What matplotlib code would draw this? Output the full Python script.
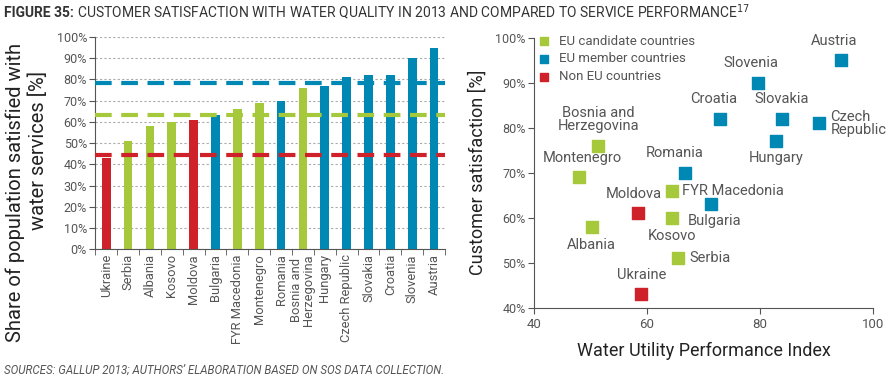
import numpy as np
import matplotlib
matplotlib.use('Agg')
from matplotlib import pyplot as plt

plt.rcParams['font.family'] = ['Roboto', 'DejaVu Sans']
plt.rcParams['text.color'] = '#3a3a3a'

countries = ['Ukraine', 'Serbia', 'Albania', 'Kosovo', 'Moldova', 'Bulgaria',
             'FYR Macedonia', 'Montenegro', 'Romania', 'Bosnia and\nHerzegovina',
             'Hungary', 'Czech Republic', 'Slovakia', 'Croatia', 'Slovenia', 'Austria']
groups = ['non', 'cand', 'cand', 'cand', 'non', 'eu', 'cand', 'cand', 'eu', 'cand',
          'eu', 'eu', 'eu', 'eu', 'eu', 'eu']
satisfaction = [43, 51, 58, 60, 61, 63, 66, 69, 70, 76, 77, 81, 82, 82, 90, 95]
performance = [59, 65.5, 50.2, 64.5, 58.4, 71.3, 64.4, 48, 66.8, 51.4,
               82.8, 90.5, 83.8, 73, 79.7, 94.3]
group_means = {'eu': 78.5, 'cand': 63, 'non': 44.5}

colors = {'cand': '#a6c93b', 'eu': '#0088b5', 'non': '#cf2129'}
legend_names = [('cand', 'EU candidate countries'), ('eu', 'EU member countries'),
                ('non', 'Non EU countries')]
grey = '#555555'

fig = plt.figure(figsize=(8.9, 3.81), dpi=100)

# left: bar chart
ax = fig.add_axes([0.107, 0.346, 0.393, 0.557])
x = np.arange(len(countries))
ax.bar(x, satisfaction, width=0.4, color=[colors[g] for g in groups], zorder=2)
for g, m in group_means.items():
    ax.axhline(m, color=colors[g], lw=3, dashes=(4, 2.3), zorder=3)
ax.set_xlim(-0.5, len(countries) - 0.5)
ax.set_ylim(0, 100)
ax.set_yticks(range(0, 101, 10))
ax.set_yticklabels(['%d%%' % v for v in range(0, 101, 10)], fontsize=9, color=grey)
ax.yaxis.grid(True, color='#aaaaaa', ls=(0, (2, 2)), lw=0.8)
ax.set_axisbelow(True)
ax.set_xticks(x)
ax.set_xticklabels(countries, rotation=90, fontsize=9.3, color=grey, linespacing=0.9)
ax.tick_params(axis='x', length=0)
ax.set_xticks(np.arange(-0.5, len(countries), 1), minor=True)
ax.tick_params(axis='x', which='minor', length=4, color=grey)
ax.tick_params(axis='y', length=4, color=grey, pad=2)
for s in ['top', 'right']:
    ax.spines[s].set_visible(False)
for s in ['left', 'bottom']:
    ax.spines[s].set_color(grey)
# y label: two lines placed separately, as in the original
fig.text(0.017, 1 - 192 / 381, 'Share of population satisfied with', rotation=90,
         fontsize=14.5, color='#222222', ha='center', va='center')
fig.text(0.043, 1 - 150 / 381, 'water services [%]', rotation=90,
         fontsize=14.5, color='#222222', ha='center', va='center')

# right: scatter
ax2 = fig.add_axes([0.6, 0.192, 0.381, 0.709])
for key, name in legend_names:
    idx = [i for i, g in enumerate(groups) if g == key]
    ax2.scatter([performance[i] for i in idx], [satisfaction[i] for i in idx],
                marker='s', s=80, color=colors[key], label=name, zorder=3)

offsets = {
    'Ukraine': (0, 9, 'center', 'bottom'),
    'Serbia': (8, 0, 'left', 'center'),
    'Albania': (0, -8, 'center', 'top'),
    'Kosovo': (0, -8, 'center', 'top'),
    'Moldova': (-3, 9, 'center', 'bottom'),
    'Bulgaria': (3, -7, 'center', 'top'),
    'FYR Macedonia': (7, 0, 'left', 'center'),
    'Montenegro': (2, 9, 'center', 'bottom'),
    'Romania': (-8, 9, 'center', 'bottom'),
    'Bosnia and\nHerzegovina': (0, 9, 'center', 'bottom'),
    'Hungary': (0, -7, 'center', 'top'),
    'Czech Republic': (8, 0, 'left', 'center'),
    'Slovakia': (0, 9, 'center', 'bottom'),
    'Croatia': (-5, 9, 'center', 'bottom'),
    'Slovenia': (-5, 9, 'center', 'bottom'),
    'Austria': (-5, 9, 'center', 'bottom'),
}
for c, px, py in zip(countries, performance, satisfaction):
    dx, dy, ha, va = offsets[c]
    label = 'Czech\nRepublic' if c == 'Czech Republic' else c
    ax2.annotate(label, (px, py), xytext=(dx, dy), textcoords='offset points',
                 ha=ha, va=va, fontsize=10.5, color=grey, linespacing=0.95)

ax2.set_xlim(40, 100)
ax2.set_ylim(40, 100)
ax2.set_xticks([40, 60, 80, 100])
ax2.set_yticks(range(40, 101, 10))
ax2.set_yticklabels(['%d%%' % v for v in range(40, 101, 10)], fontsize=9, color=grey)
ax2.tick_params(axis='x', labelsize=9.5, labelcolor=grey, length=4, color=grey)
ax2.tick_params(axis='y', length=4, color=grey, pad=2)
for s in ['top', 'right']:
    ax2.spines[s].set_visible(False)
for s in ['left', 'bottom']:
    ax2.spines[s].set_color(grey)
ax2.set_xlabel('Water Utility Performance Index', fontsize=13, color='#222222', labelpad=8)
ax2.set_ylabel('Customer satisfaction [%]', fontsize=13, color='#222222', labelpad=6)
ax2.legend(loc='upper left', frameon=False, fontsize=9.5, handletextpad=0.2,
           borderaxespad=0.1, labelspacing=0.35, markerscale=0.65,
           bbox_to_anchor=(-0.03, 1.035), labelcolor=grey)

# title: bold prefix followed by regular text
t1 = fig.text(0.004, 0.955, 'FIGURE 35:', fontsize=10, fontweight='bold', color='#333333')
fig.canvas.draw()
bb = t1.get_window_extent().transformed(fig.transFigure.inverted())
fig.text(bb.x1 + 0.004, 0.955, 'CUSTOMER SATISFACTION WITH WATER QUALITY IN 2013 AND COMPARED TO '
         'SERVICE PERFORMANCE$^{17}$', fontsize=10, color='#333333')
fig.text(0.004, 0.02, 'SOURCES: GALLUP 2013; AUTHORS\u2019 ELABORATION BASED ON SOS DATA COLLECTION.',
         fontsize=8.3, style='italic', color='#555555')

fig.savefig('out.png', dpi=100)
